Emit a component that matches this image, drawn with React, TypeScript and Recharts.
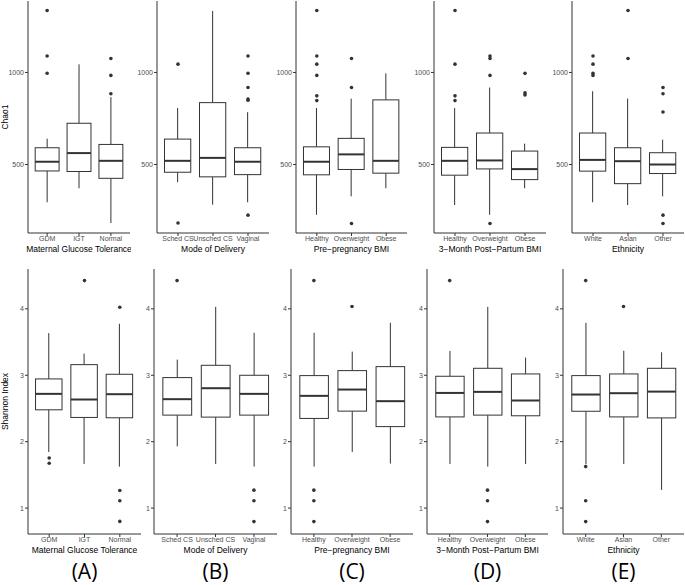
import React from 'react';
import { ComposedChart, Bar, Scatter, XAxis, YAxis } from 'recharts';

const glucoseCats = ['GDM', 'IGT', 'Normal'];
const deliveryCats = ['Sched CS', 'Unsched CS', 'Vaginal'];
const bmiCats = ['Healthy', 'Overweight', 'Obese'];
const ethnicCats = ['White', 'Asian', 'Other'];

// box stats per group: [lower whisker, Q1, median, Q3, upper whisker]
const chaoGlucose = [[295, 465, 515, 591, 640], [371, 462, 562, 724, 1044], [182, 425, 520, 609, 866]];
const chaoGlucoseOut = [[1336, 1089, 996], [], [1076, 984, 884]];
const chaoDelivery = [[404, 458, 520, 638, 807], [282, 433, 536, 836, 1334], [295, 445, 515, 591, 784]];
const chaoDeliveryOut = [[1045, 182], [], [1089, 996, 918, 856, 849, 225]];
const chaoPreBmi = [[227, 444, 515, 596, 807], [327, 473, 555, 642, 858], [371, 453, 520, 851, 995]];
const chaoPreBmiOut = [[1336, 1089, 1045, 984, 873, 847], [1076, 918, 180], []];
const chaoPostBmi = [[280, 442, 520, 593, 807], [227, 476, 522, 671, 918], [371, 418, 475, 573, 613]];
const chaoPostBmiOut = [[1336, 1045, 873, 847], [1089, 1076, 984, 180], [995, 889, 878]];
const chaoEthnic = [[295, 464, 525, 671, 898], [280, 396, 518, 591, 858], [327, 451, 500, 564, 635]];
const chaoEthnicOut = [[1089, 1045, 995, 984], [1336, 1076], [918, 884, 785, 225, 180]];

const shannonGlucose = [[1.845, 2.48, 2.72, 2.945, 3.635], [1.665, 2.365, 2.635, 3.16, 3.325], [1.625, 2.36, 2.715, 3.015, 3.775]];
const shannonGlucoseOut = [[1.755, 1.675], [4.425], [4.025, 1.265, 1.11, 0.8]];
const shannonDelivery = [[1.93, 2.4, 2.64, 2.965, 3.236], [1.665, 2.37, 2.805, 3.15, 4.03], [1.625, 2.4, 2.72, 3.0, 3.64]];
const shannonDeliveryOut = [[4.425], [], [1.27, 1.11, 0.797]];
const shannonPreBmi = [[1.625, 2.35, 2.69, 2.995, 3.64], [1.846, 2.46, 2.785, 3.07, 3.356], [1.67, 2.227, 2.61, 3.13, 3.79]];
const shannonPreBmiOut = [[4.425, 1.27, 1.11, 0.797], [4.035], []];
const shannonPostBmi = [[1.665, 2.373, 2.734, 2.985, 3.366], [1.625, 2.4, 2.75, 3.105, 4.03], [1.665, 2.39, 2.62, 3.02, 3.266]];
const shannonPostBmiOut = [[4.425], [1.27, 1.11, 0.797], []];
const shannonEthnic = [[1.66, 2.458, 2.71, 2.995, 3.79], [1.665, 2.373, 2.73, 3.02, 3.37], [1.274, 2.358, 2.754, 3.105, 3.346]];
const shannonEthnicOut = [[4.425, 1.625, 1.11, 0.797], [4.035], []];

const chaoDomain = [128, 1388];
const chaoTicks = [500, 1000];
const shannonDomain = [0.61, 4.6];
const shannonTicks = [1, 2, 3, 4];

const panelLetters = ['(A)', '(B)', '(C)', '(D)', '(E)'];

const INK = '#333333';

function BoxShape(props: any) {
	const { x, y, width, height, payload } = props;
	const [lo, q1, med, q3, hi] = payload.stats;
	const py = (v: number) => y + ((hi - v) / (hi - lo)) * height;
	const cx = x + width / 2;
	return (
		<g>
			<line x1={cx} x2={cx} y1={py(hi)} y2={py(q3)} stroke={INK} strokeWidth={1} />
			<line x1={cx} x2={cx} y1={py(q1)} y2={py(lo)} stroke={INK} strokeWidth={1} />
			<rect x={x} y={py(q3)} width={width} height={py(q1) - py(q3)} fill="#fff" stroke={INK} strokeWidth={1} />
			<line x1={x} x2={x + width} y1={py(med)} y2={py(med)} stroke={INK} strokeWidth={2} />
		</g>
	);
}

function OutlierDot(props: any) {
	return <circle cx={props.cx} cy={props.cy} r={1.8} fill={INK} />;
}

function BoxPanel(props: any) {
	const { left, top, plotW, plotH, axisW, cats, stats, outliers, domain, ticks, xTitle, yTitle } = props;
	const rows = cats.map((c: string, i: number) => ({ cat: c, stats: stats[i], range: [stats[i][0], stats[i][4]] }));
	const points: any[] = [];
	cats.forEach((c: string, i: number) => {
		for (let v of outliers[i]) points.push({ cat: c, v: v });
	});
	const unit = plotW / 3.2;
	const pad = unit * 0.1;
	const width = axisW + plotW + 1;
	const height = 1 + plotH + 20 + 7;

	return (
		<div style={{ position: 'absolute', left: left - axisW, top: top - 1 }}>
			<ComposedChart width={width} height={height} data={rows} margin={{ top: 1, right: 1, bottom: 7, left: 0 }}>
				<XAxis
					dataKey="cat"
					type="category"
					allowDuplicatedCategory={false}
					interval={0}
					padding={{ left: pad, right: pad }}
					height={20}
					tickSize={3}
					tickMargin={0.5}
					axisLine={{ stroke: INK }}
					tickLine={{ stroke: INK }}
					tick={{ fontSize: 7, fill: '#4d4d4d' }}
					label={{ value: xTitle, position: 'insideBottom', offset: 1.5, fontSize: 8.5, fill: '#000' }}
				/>
				<XAxis xAxisId="top" orientation="top" height={0} tick={false} tickLine={false} axisLine={{ stroke: INK }} />
				<YAxis
					type="number"
					domain={domain}
					ticks={ticks}
					allowDataOverflow
					width={axisW}
					tickSize={3}
					tickMargin={1}
					axisLine={{ stroke: INK }}
					tickLine={{ stroke: INK }}
					tick={{ fontSize: 7, fill: '#4d4d4d' }}
					label={yTitle ? { value: yTitle, angle: -90, position: 'insideLeft', offset: 4.5, fontSize: 8.5, fill: '#000', style: { textAnchor: 'middle' } } : undefined}
				/>
				<YAxis yAxisId="right" orientation="right" width={0} tick={false} tickLine={false} axisLine={{ stroke: INK }} />
				<Bar dataKey="range" barSize={unit * 0.75} shape={BoxShape} isAnimationActive={false} />
				<Scatter data={points} dataKey="v" shape={OutlierDot} isAnimationActive={false} />
			</ComposedChart>
		</div>
	);
}

export default function App() {
	const topLefts = [28, 157, 296, 434, 572];
	const topWidths = [102, 112, 111, 112, 112];
	const botLefts = [28, 154, 291, 427, 563];
	const botWidths = [113, 123, 122, 121, 121];
	const catsList = [glucoseCats, deliveryCats, bmiCats, bmiCats, ethnicCats];
	const titles = ['Maternal Glucose Tolerance', 'Mode of Delivery', 'Pre\u2212pregnancy BMI', '3\u2212Month Post\u2212Partum BMI', 'Ethnicity'];
	const chaoStats = [chaoGlucose, chaoDelivery, chaoPreBmi, chaoPostBmi, chaoEthnic];
	const chaoOut = [chaoGlucoseOut, chaoDeliveryOut, chaoPreBmiOut, chaoPostBmiOut, chaoEthnicOut];
	const shanStats = [shannonGlucose, shannonDelivery, shannonPreBmi, shannonPostBmi, shannonEthnic];
	const shanOut = [shannonGlucoseOut, shannonDeliveryOut, shannonPreBmiOut, shannonPostBmiOut, shannonEthnicOut];

	return (
		<div style={{ position: 'absolute', left: 0, top: 0, width: 685, height: 585, background: '#fff', overflow: 'hidden', fontFamily: '"Liberation Sans", Arial, sans-serif' }}>
			{catsList.map((cats, i) => (
				<BoxPanel
					key={'c' + i}
					left={topLefts[i]}
					top={1}
					plotW={topWidths[i]}
					plotH={232}
					axisW={i === 0 ? 28 : 26}
					cats={cats}
					stats={chaoStats[i]}
					outliers={chaoOut[i]}
					domain={chaoDomain}
					ticks={chaoTicks}
					xTitle={titles[i]}
					yTitle={i === 0 ? 'Chao1' : null}
				/>
			))}
			{catsList.map((cats, i) => (
				<BoxPanel
					key={'s' + i}
					left={botLefts[i]}
					top={269}
					plotW={botWidths[i]}
					plotH={265}
					axisW={i === 0 ? 28 : 12}
					cats={cats}
					stats={shanStats[i]}
					outliers={shanOut[i]}
					domain={shannonDomain}
					ticks={shannonTicks}
					xTitle={titles[i]}
					yTitle={i === 0 ? 'Shannon Index' : null}
				/>
			))}
			{panelLetters.map((t, i) => (
				<div key={t} style={{ position: 'absolute', left: botLefts[i], width: botWidths[i], top: 558, textAlign: 'center', fontSize: 21, lineHeight: '26px', fontFamily: '"Open Sans", "Noto Sans", sans-serif', color: '#000' }}>
					{t}
				</div>
			))}
		</div>
	);
}
